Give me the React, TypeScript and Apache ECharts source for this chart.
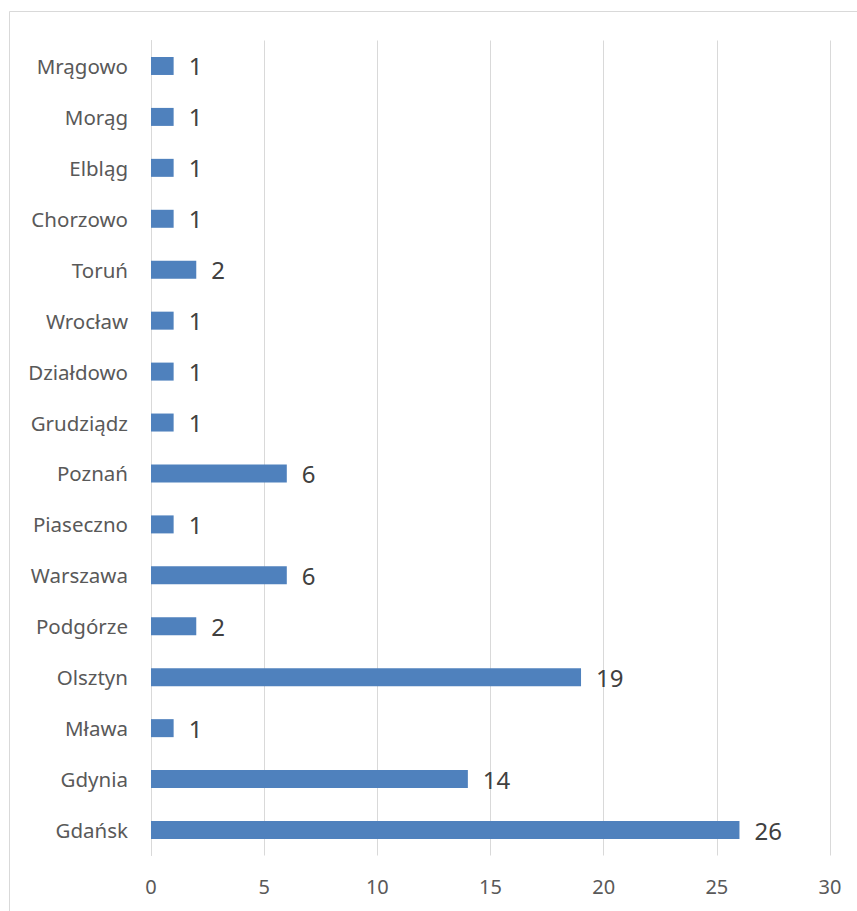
import React, { useEffect, useRef } from "react";
import * as echarts from "echarts";

const categories = [
  "Gdańsk", "Gdynia", "Mława", "Olsztyn", "Podgórze", "Warszawa", "Piaseczno", "Poznań",
  "Grudziądz", "Działdowo", "Wrocław", "Toruń", "Chorzowo", "Elbląg", "Morąg", "Mrągowo",
];
const values = [26, 14, 1, 19, 2, 6, 1, 6, 1, 1, 1, 2, 1, 1, 1, 1];
const xMin = 0;
const xMax = 30;
const xStep = 5;

export default function App() {
  const ref = useRef<HTMLDivElement>(null);
  useEffect(() => {
    if (!ref.current) return;
    const chart = echarts.init(ref.current, null, { renderer: "svg" });
    const font = "'Noto Sans', 'Open Sans', sans-serif";
    chart.setOption({
      animation: false,
      backgroundColor: "#ffffff",
      graphic: [
        {
          type: "rect",
          shape: { x: 9.5, y: 11.5, width: 1000, height: 1000 },
          style: { fill: "none", stroke: "#d9d9d9", lineWidth: 1 },
          silent: true,
        },
      ],
      grid: { left: 151, right: 27, top: 40.5, bottom: 55.5, containLabel: false },
      xAxis: {
        type: "value",
        min: xMin,
        max: xMax,
        interval: xStep,
        axisLine: { show: false },
        axisTick: { show: false },
        splitLine: { show: true, lineStyle: { color: "#d9d9d9", width: 1 } },
        axisLabel: { color: "#595959", fontSize: 20, fontFamily: font, margin: 21 },
      },
      yAxis: {
        type: "category",
        data: categories,
        axisLine: { show: true, lineStyle: { color: "#d9d9d9" } },
        axisTick: { show: false },
        axisLabel: { color: "#595959", fontSize: 20.5, fontFamily: font, margin: 23 },
      },
      series: [
        {
          type: "bar",
          data: values,
          barWidth: 18,
          itemStyle: { color: "#4f81bd" },
          label: {
            show: true,
            position: "right",
            distance: 15,
            color: "#404040",
            fontSize: 24,
            fontFamily: font,
          },
        },
      ],
    });
    return () => chart.dispose();
  }, []);
  return (
    <div
      ref={ref}
      style={{ position: "fixed", left: 0, top: 0, width: 857, height: 911 }}
    />
  );
}
